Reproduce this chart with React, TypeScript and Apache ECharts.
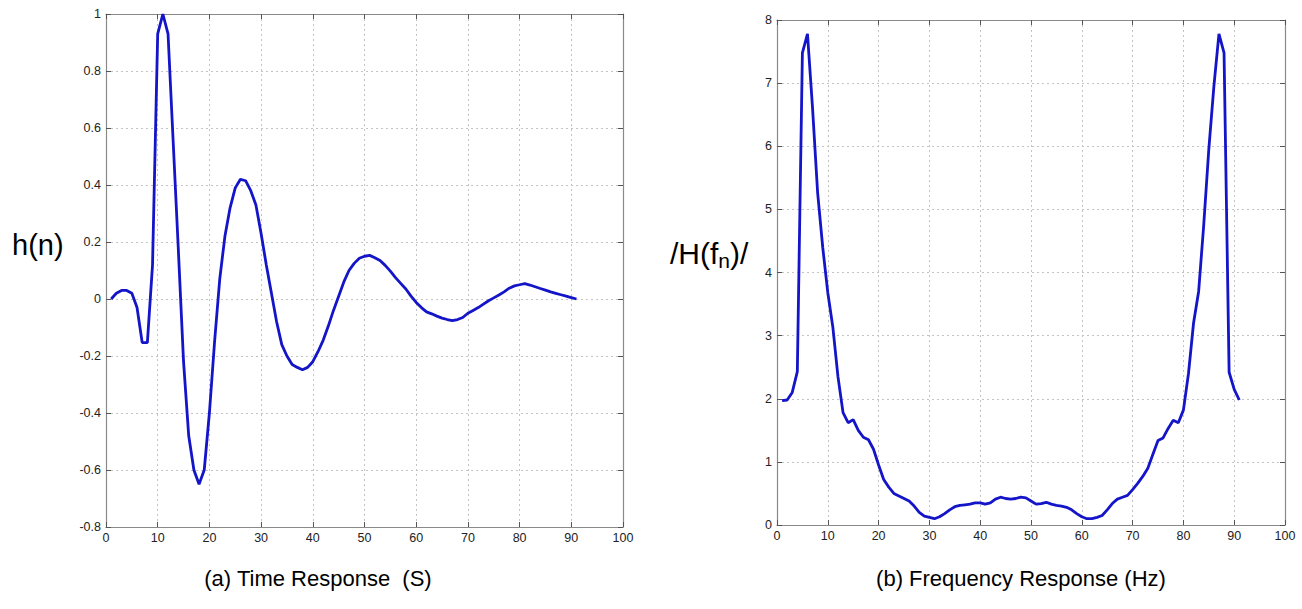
import React, { useEffect, useRef } from "react";
import * as echarts from "echarts";

const xTicks = [0, 10, 20, 30, 40, 50, 60, 70, 80, 90, 100];

const timeX = [
  1, 2, 3, 4, 5, 6, 7, 8, 9, 10, 11, 12, 13, 14, 15, 16, 17, 18, 19, 20,
  21, 22, 23, 24, 25, 26, 27, 28, 29, 30, 31, 32, 33, 34, 35, 36, 37, 38, 39, 40,
  41, 42, 43, 44, 45, 46, 47, 48, 49, 50, 51, 52, 53, 54, 55, 56, 57, 58, 59, 60,
  61, 62, 63, 64, 65, 66, 67, 68, 69, 70, 71, 72, 73, 74, 75, 76, 77, 78, 79, 80,
  81, 82, 83, 84, 85, 86, 87, 88, 89, 90, 91,
];
const timeY = [
  0, 0.02, 0.03, 0.03, 0.02, -0.03, -0.153, -0.153, 0.12, 0.93,
  1.0, 0.93, 0.55, 0.17, -0.22, -0.48, -0.6, -0.65, -0.6, -0.4,
  -0.15, 0.07, 0.22, 0.32, 0.39, 0.42, 0.415, 0.38, 0.33, 0.23,
  0.12, 0.02, -0.08, -0.16, -0.2, -0.23, -0.24, -0.248, -0.24, -0.22,
  -0.185, -0.145, -0.095, -0.04, 0.01, 0.06, 0.1, 0.125, 0.143, 0.15,
  0.153, 0.145, 0.135, 0.118, 0.098, 0.075, 0.055, 0.035, 0.01, -0.012,
  -0.03, -0.045, -0.052, -0.06, -0.067, -0.072, -0.076, -0.072, -0.065, -0.05,
  -0.04, -0.03, -0.018, -0.006, 0.004, 0.014, 0.025, 0.038, 0.046, 0.05,
  0.054, 0.049, 0.043, 0.037, 0.031, 0.025, 0.02, 0.015, 0.01, 0.005,
  0.0,
];

const freqX = timeX;
const freqY = [
  1.97, 1.98, 2.1, 2.43, 7.48, 7.78, 6.6, 5.26, 4.4, 3.68,
  3.13, 2.35, 1.78, 1.62, 1.67, 1.5, 1.39, 1.35, 1.2, 0.95,
  0.72, 0.6, 0.5, 0.46, 0.42, 0.38, 0.3, 0.2, 0.14, 0.12,
  0.1, 0.13, 0.18, 0.24, 0.29, 0.31, 0.32, 0.33, 0.35, 0.35,
  0.33, 0.35, 0.41, 0.44, 0.42, 0.41, 0.42, 0.44, 0.43, 0.38,
  0.33, 0.34, 0.36, 0.33, 0.31, 0.3, 0.28, 0.24, 0.18, 0.13,
  0.1, 0.1, 0.12, 0.15, 0.24, 0.34, 0.41, 0.44, 0.47, 0.56,
  0.66, 0.77, 0.9, 1.12, 1.34, 1.38, 1.53, 1.66, 1.62, 1.82,
  2.4, 3.2, 3.7, 4.75, 5.95, 6.95, 7.78, 7.48, 2.42, 2.15,
  1.98,
];

const FONT = "Arial, 'Liberation Sans', Helvetica, sans-serif";
const BOX = "#8a8a8a";
const GRIDC = "#c4c4c4";
const LINE = "#1414c8";

function fmt(v: number) {
  const r = Math.round(v * 10) / 10;
  return String(r);
}

export default function App() {
  const ref = useRef<HTMLDivElement>(null);
  useEffect(() => {
    if (!ref.current) return;
    const chart = echarts.init(ref.current, null, { renderer: "svg" });
    const tickStyle = { show: true, inside: true, length: 5, lineStyle: { color: "#555", width: 1 } };
    const split = { show: true, lineStyle: { color: GRIDC, type: [2, 3] as any, width: 1 } };
    const axLine = { show: true, onZero: false, lineStyle: { color: BOX, width: 1.2 } };
    const lbl = { color: "#222", fontSize: 12.5, fontFamily: FONT, margin: 5 };

    const mkX = (gi: number, pos: "bottom" | "top", show: boolean) => ({
      type: "value",
      gridIndex: gi,
      position: pos,
      min: 0,
      max: 100,
      interval: 10,
      axisLine: axLine,
      axisTick: tickStyle,
      axisLabel: show ? { ...lbl, margin: 4 } : { show: false },
      splitLine: show ? split : { show: false },
    });
    const mkY = (gi: number, pos: "left" | "right", show: boolean, min: number, max: number, interval: number) => ({
      type: "value",
      gridIndex: gi,
      position: pos,
      min,
      max,
      interval,
      axisLine: axLine,
      axisTick: tickStyle,
      axisLabel: show ? { ...lbl, formatter: fmt } : { show: false },
      splitLine: show ? split : { show: false },
    });

    const tData = timeX.map((x, i) => [x, timeY[i]]);
    const fData = freqX.map((x, i) => [x, freqY[i]]);

    chart.setOption({
      animation: false,
      backgroundColor: "#ffffff",
      grid: [
        { left: 106, top: 14, width: 517, height: 513 },
        { left: 777, top: 20, width: 508, height: 505 },
      ],
      xAxis: [mkX(0, "bottom", true), mkX(0, "top", false), mkX(1, "bottom", true), mkX(1, "top", false)],
      yAxis: [
        mkY(0, "left", true, -0.8, 1, 0.2),
        mkY(0, "right", false, -0.8, 1, 0.2),
        mkY(1, "left", true, 0, 8, 1),
        mkY(1, "right", false, 0, 8, 1),
      ],
      series: [
        {
          type: "line",
          xAxisIndex: 0,
          yAxisIndex: 0,
          data: tData,
          showSymbol: false,
          smooth: false,
          lineStyle: { color: LINE, width: 2.8 },
        },
        {
          type: "line",
          xAxisIndex: 2,
          yAxisIndex: 2,
          data: fData,
          showSymbol: false,
          smooth: false,
          lineStyle: { color: LINE, width: 2.8 },
        },
      ],
      graphic: [
        {
          type: "text",
          x: 12,
          y: 245,
          style: { text: "h(n)", font: `29px ${FONT}`, fill: "#000", verticalAlign: "middle" },
        },
        {
          type: "text",
          x: 670,
          y: 253,
          style: {
            text: "/H(f{sub|n})/",
            font: `30px ${FONT}`,
            fill: "#000",
            verticalAlign: "middle",
            rich: {
              sub: { fontSize: 21, fontFamily: FONT, verticalAlign: "bottom", padding: [15, 0, 0, 0] },
            } as any,
          },
        },
        {
          type: "text",
          x: 318,
          y: 578,
          style: {
            text: "(a) Time Response  (S)",
            font: `22px ${FONT}`,
            fill: "#000",
            align: "center",
            verticalAlign: "middle",
          },
        },
        {
          type: "text",
          x: 1021,
          y: 578,
          style: {
            text: "(b) Frequency Response (Hz)",
            font: `22px ${FONT}`,
            fill: "#000",
            align: "center",
            verticalAlign: "middle",
          },
        },
      ],
    });
    return () => chart.dispose();
  }, []);
  return (
    <div
      ref={ref}
      style={{ position: "absolute", left: 0, top: 0, width: 1302, height: 609, background: "#fff" }}
    />
  );
}
